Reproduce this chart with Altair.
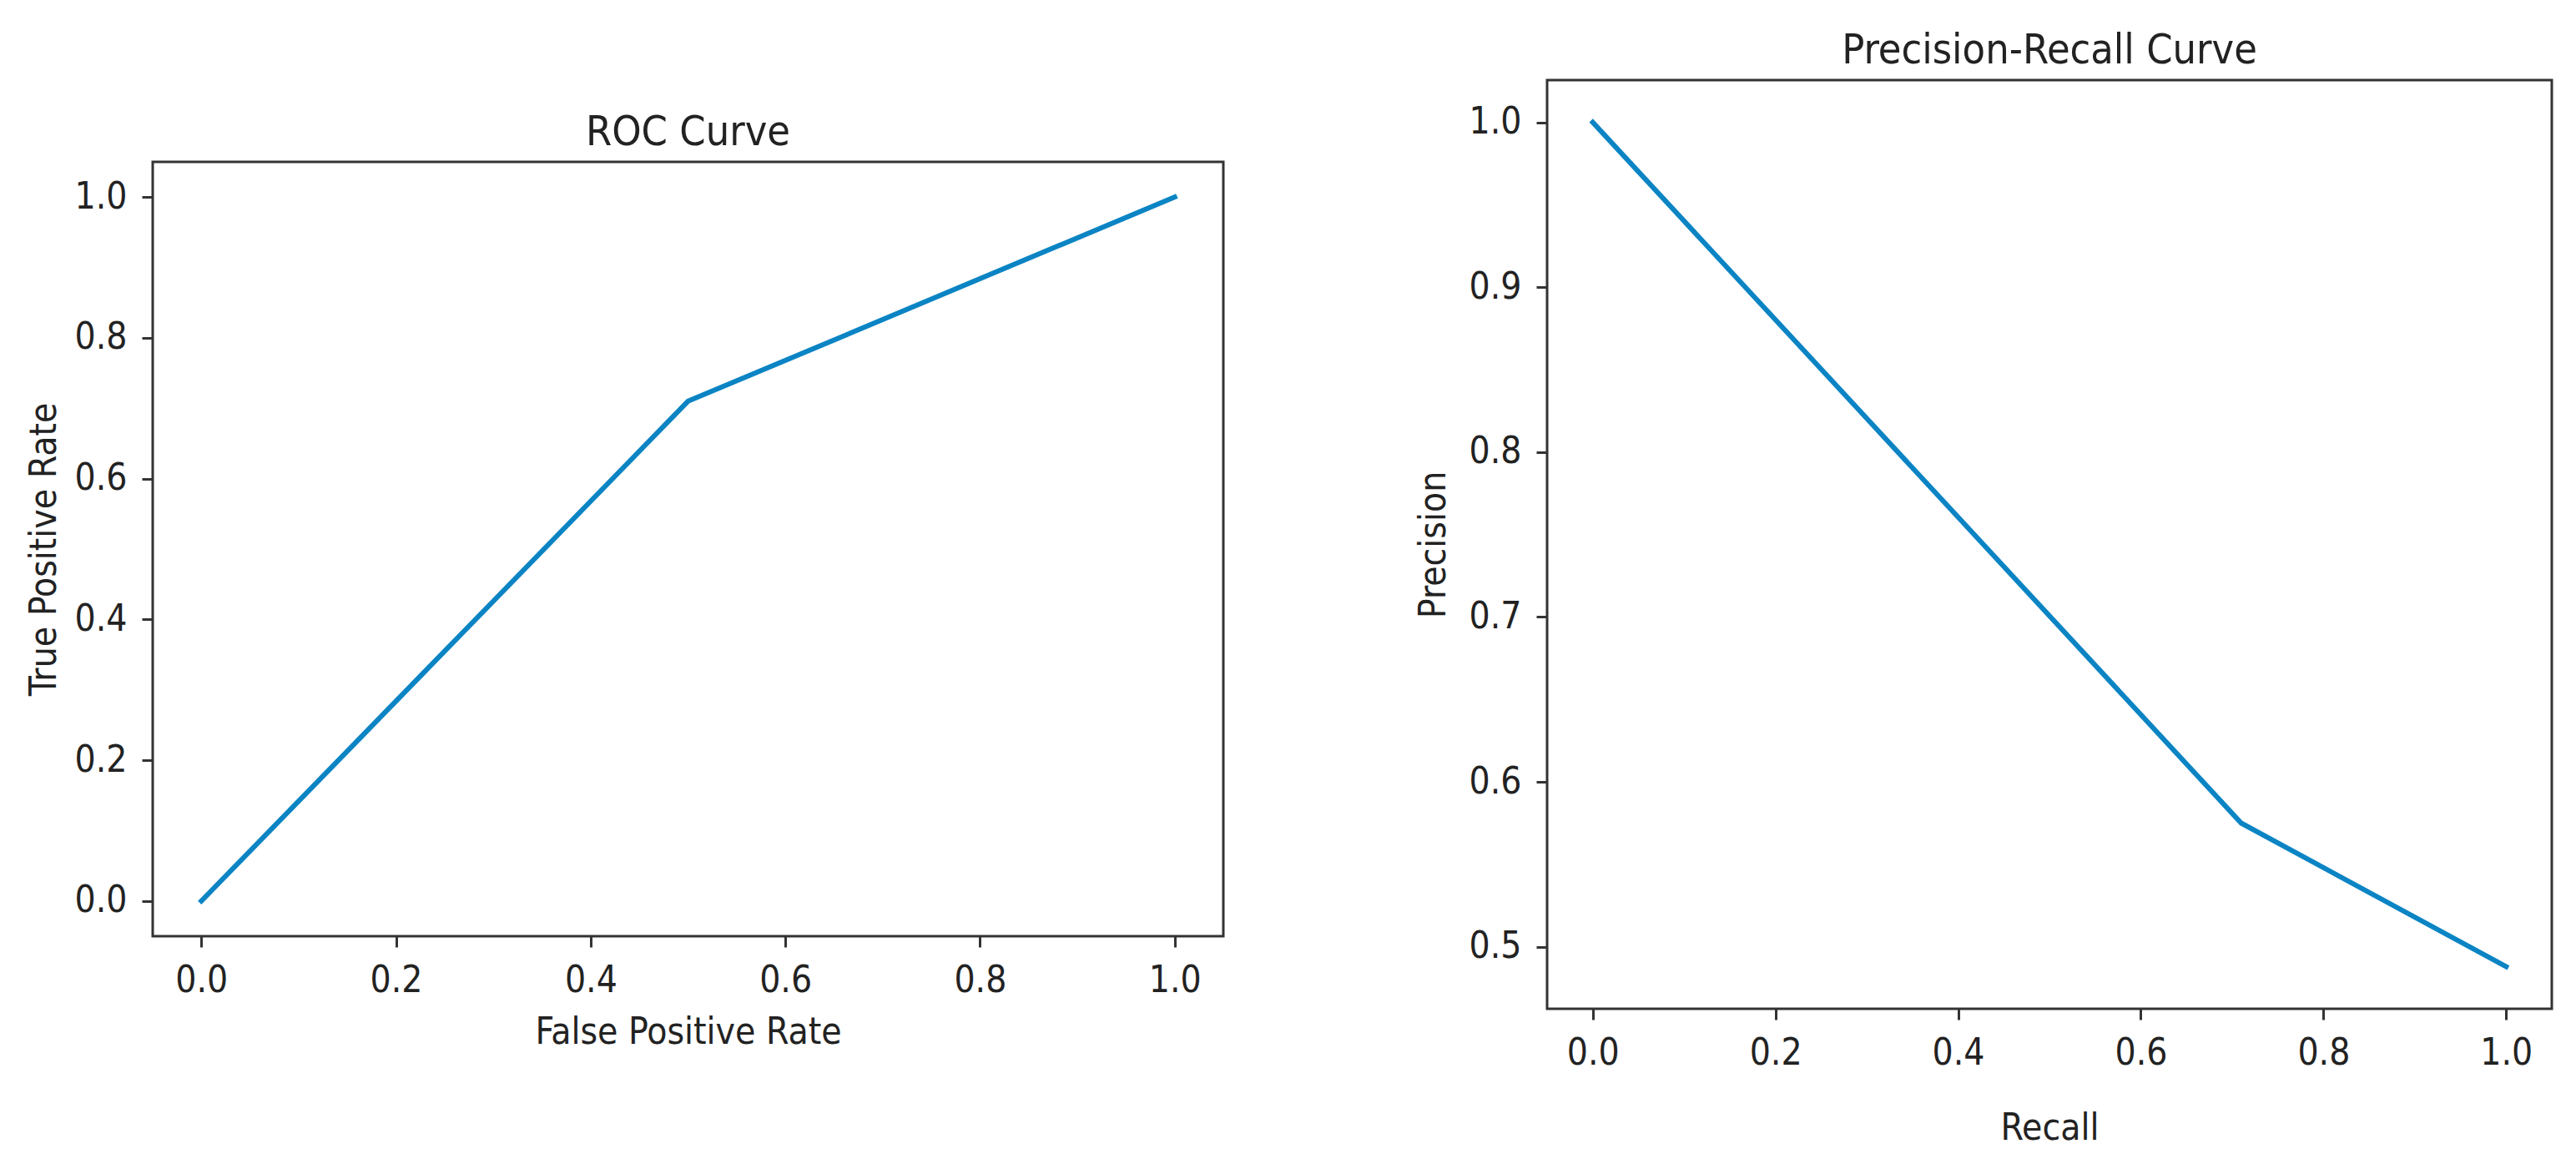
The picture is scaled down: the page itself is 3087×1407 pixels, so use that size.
import altair as alt
import pandas as pd

# ROC curve values
fpr = [0.0, 0.5, 1.0]
tpr = [0.0, 0.71, 1.0]

# Precision-Recall curve values
recall = [0.0, 0.71, 1.0]
precision = [1.0, 0.575, 0.488]

roc_ticks = [0.0, 0.2, 0.4, 0.6, 0.8, 1.0]
pr_xticks = [0.0, 0.2, 0.4, 0.6, 0.8, 1.0]
pr_yticks = [0.5, 0.6, 0.7, 0.8, 0.9, 1.0]

FONT = "DejaVu Sans Condensed, Liberation Sans Narrow, DejaVu Sans"
LINE = "#0b84c4"
AX = "#333333"
TXT = "#222222"

roc_df = pd.DataFrame({"fpr": fpr, "tpr": tpr})
pr_df = pd.DataFrame({"recall": recall, "precision": precision})


def axis(values, title, title_pad):
    return alt.Axis(
        values=values, format=".1f", title=title, grid=False, domain=False,
        ticks=True, tickSize=13, tickWidth=3, tickColor=AX,
        labelFont=FONT, labelFontSize=44, labelColor=TXT, labelPadding=18,
        titleFont=FONT, titleFontSize=44, titleFontWeight="normal",
        titleColor=TXT, titlePadding=title_pad, labelFlush=False,
        labelOverlap=False,
    )


def title(text):
    return alt.TitleParams(text=text, font=FONT, fontSize=50,
                           fontWeight="normal", color=TXT, anchor="middle",
                           offset=10)


roc = alt.Chart(roc_df).mark_line(color=LINE, strokeWidth=6, strokeCap="square").encode(
    x=alt.X("fpr:Q", scale=alt.Scale(domain=[-0.05, 1.05], nice=False, zero=False),
            axis=axis(roc_ticks, "False Positive Rate", 18)),
    y=alt.Y("tpr:Q", scale=alt.Scale(domain=[-0.05, 1.05], nice=False, zero=False),
            axis=axis(roc_ticks, "True Positive Rate", 14)),
).properties(width=1283, height=928, title=title("ROC Curve"))

# invisible spacer that lowers the ROC panel like in the reference
spacer = alt.Chart(roc_df).mark_point(size=0, opacity=0).encode(
    x=alt.value(0), y=alt.value(0)
).properties(width=1283, height=36, view=alt.ViewBackground(strokeWidth=0))

pr = alt.Chart(pr_df).mark_line(color=LINE, strokeWidth=6, strokeCap="square").encode(
    x=alt.X("recall:Q", scale=alt.Scale(domain=[-0.05, 1.05], nice=False, zero=False),
            axis=axis(pr_xticks, "Recall", 46)),
    y=alt.Y("precision:Q", scale=alt.Scale(domain=[0.4624, 1.0256], nice=False, zero=False),
            axis=axis(pr_yticks, "Precision", 20)),
).properties(width=1204, height=1113, title=title("Precision-Recall Curve"))

left = alt.vconcat(spacer, roc, spacing=0)

chart = alt.hconcat(left, pr, spacing=226).properties(
    padding={"left": 21, "top": 26, "right": 5, "bottom": 5},
    background="white",
).configure_view(stroke=AX, strokeWidth=3)

chart.save("out.html", embed_options={"renderer": "svg", "actions": False})
